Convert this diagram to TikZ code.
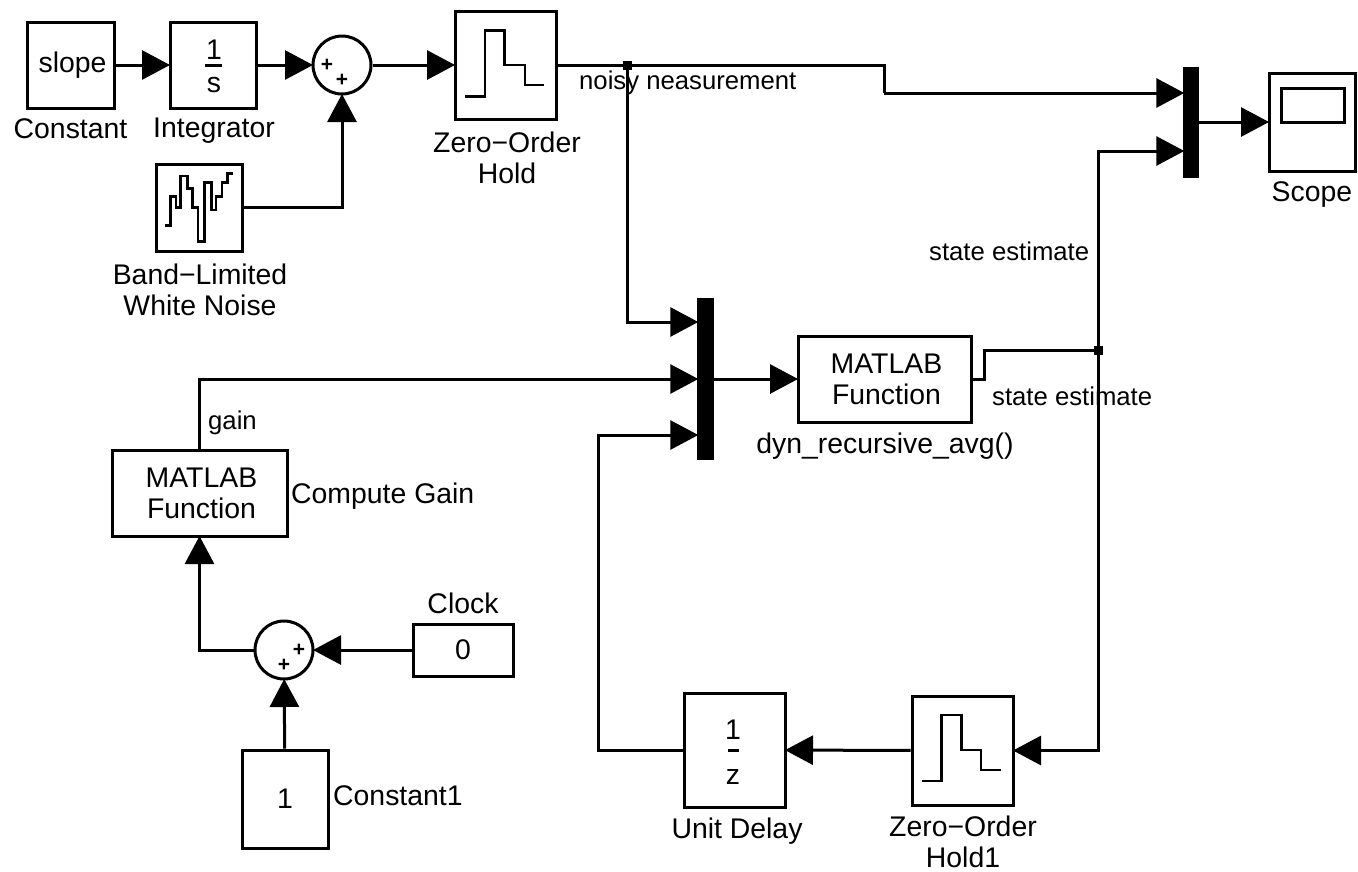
\documentclass[tikz,border=0pt]{standalone}
\usepackage{fontspec}
\setmainfont{Liberation Sans}
\usetikzlibrary{arrows.meta}
\newcommand{\nudged}[1]{\hspace*{4pt}\raisebox{-2pt}{#1}}
\tikzset{
  x=1pt,y=-1pt,
  blk/.style={draw,line width=3pt,inner sep=0pt,align=center,font=\fontsize{28.4}{31}\selectfont},
  sumc/.style={draw,circle,line width=3pt,minimum size=58pt,inner sep=0pt},
  mux/.style={fill=black,draw=none,inner sep=0pt},
  lab/.style={inner sep=0pt,align=center,font=\fontsize{28.4}{30.5}\selectfont},
  wlab/.style={inner sep=0pt,font=\fontsize{25.7}{28}\selectfont},
  plussign/.style={inner sep=0pt,font=\bfseries\fontsize{21}{21}\selectfont},
  wire/.style={line width=3pt,shorten >=-1.5pt,-{Triangle[length=28pt,width=29pt]}},
  line/.style={line width=3pt},
  trace/.style={line width=2.5pt},
  dotj/.style={fill=black,draw=none,minimum size=9pt,inner sep=0pt},
  num/.style={inner sep=0pt,font=\fontsize{28.4}{29}\selectfont}
}
\begin{document}
\begin{tikzpicture}
\useasboundingbox (0,0) rectangle (1358,871);
% blocks
\node[blk,minimum width=87pt,minimum height=86pt] (const) at (70.5,65) {\nudged{slope}};
\node[blk,minimum width=86pt,minimum height=86pt] (integ) at (213,65) {};
\node[sumc] (sum1) at (342,65) {};
\node[blk,minimum width=101pt,minimum height=108pt] (zoh) at (505.5,65) {};
\node[blk,minimum width=86pt,minimum height=87pt] (noise) at (199,207.5) {};
\node[mux,minimum width=16pt,minimum height=111pt] (mux2) at (1191,122) {};
\node[blk,minimum width=86pt,minimum height=98pt] (scope) at (1312,122) {};
\node[mux,minimum width=17pt,minimum height=162pt] (mux1) at (705.5,379) {};
\node[blk,minimum width=173pt,minimum height=86pt] (dyn) at (884.5,379) {\nudged{MATLAB}\\\nudged{Function}};
\node[blk,minimum width=175pt,minimum height=86pt] (gain) at (199.5,493) {\nudged{MATLAB}\\\nudged{Function}};
\node[sumc] (sum2) at (284,650) {};
\node[blk,minimum width=100pt,minimum height=52pt] (clock) at (463,650) {0};
\node[blk,minimum width=86pt,minimum height=98pt] (const1) at (285,799) {1};
\node[blk,minimum width=101pt,minimum height=114pt] (delay) at (734.5,750) {};
\node[blk,minimum width=101pt,minimum height=109pt] (zoh1) at (962.5,750.5) {};
% block contents
\node[num] (i1) at (214,50) {1};
\node[num] (is) at (214,85) {s};
\draw[line] (205,65) -- (222,65);
\node[num] (d1) at (733,730) {1};
\node[num] (dz) at (733,777) {z};
\draw[line] (727.5,750) -- (738.5,750);
\draw[trace] (465,96.3) -- (485,96.3) -- (485,30.7) -- (504.4,30.7) -- (504.4,65) -- (525,65) -- (525,85) -- (544,85);
\draw[trace] (921.7,781) -- (941.7,781) -- (941.7,715) -- (961.7,715) -- (961.7,750) -- (981,750) -- (981,770) -- (1000.7,770);
\begin{scope}[x=0.3827pt,y=-0.3333pt]
\draw[trace] (430,676) -- (445,676) -- (445,590) -- (460,590) -- (460,622) -- (472,622) -- (472,528) -- (490,528) -- (490,565) -- (503,565) -- (503,622) -- (518,622) -- (518,725) -- (535,725) -- (535,548) -- (552,548) -- (552,630) -- (565,630) -- (565,590) -- (580,590) -- (580,548) -- (595,548) -- (595,520) -- (610,520);
\end{scope}
\draw[line] (1281,88) rectangle (1344,122);
% plus signs
\node[plussign] (p1) at (327,65) {+};
\node[plussign] (p2) at (342,80) {+};
\node[plussign] (p3) at (299,650) {+};
\node[plussign] (p4) at (284,665) {+};
% junctions
\node[dotj] (j1) at (627,65) {};
\node[dotj] (j2) at (1098,350.5) {};
\coordinate (c1) at (884,65);
\coordinate (c2) at (884,93);
% wires
\draw[wire] (const) -- (integ);
\draw[wire] (integ) -- (sum1);
\draw[wire] (sum1) -- (zoh);
\draw[wire] (noise.east) -| (sum1.south);
\draw[line] (zoh.east) -- (j1.center) -- (c1) -- (c2);
\draw[wire] (c2) -- (mux2.west |- c2);
\draw[wire] (j1.center) |- (mux1.west |- 0,322);
\draw[wire] (gain.north) |- (mux1.west);
\draw[wire] (delay.west) -- (598,750) |- (mux1.west |- 0,435);
\draw[wire] (mux1) -- (dyn);
\draw[line] (dyn.east) -- (984,379) -- (984,350.5) -- (j2.center);
\draw[wire] (j2.center) |- (mux2.west |- 0,151);
\draw[wire] (j2.center) |- (zoh1.east);
\draw[wire] (zoh1) -- (delay);
\draw[wire] (mux2) -- (scope);
\draw[wire] (clock) -- (sum2);
\draw[wire] (const1) -- (sum2);
\draw[wire] (sum2.west) -| (gain.south);
% labels
\node[lab] (lconst) at (70.5,129) {Constant};
\node[lab] (linteg) at (214,131) {Integrator};
\node[lab] (lzoh) at (507,158) {Zero−Order\\Hold};
\node[lab] (lnoise) at (200,290) {Band−Limited\\White Noise};
\node[lab] (lscope) at (1312,195) {Scope};
\node[lab,anchor=west] (lgainb) at (291,496) {Compute Gain};
\node[lab] (ldyn) at (885,446) {dyn\_recursive\_avg()};
\node[lab] (lclock) at (463,603) {Clock};
\node[lab,anchor=west] (lc1) at (333,796) {Constant1};
\node[lab] (ldel) at (737,831) {Unit Delay};
\node[lab] (lzoh1) at (963,842) {Zero−Order\\Hold1};
\node[wlab,anchor=west] (w1) at (579,83) {noisy neasurement};
\node[wlab,anchor=west] (w2) at (929,251) {state estimate};
\node[wlab,anchor=west] (w3) at (992,396.5) {state estimate};
\node[wlab,anchor=west] (w4) at (208,423) {gain};
\end{tikzpicture}
\end{document}
